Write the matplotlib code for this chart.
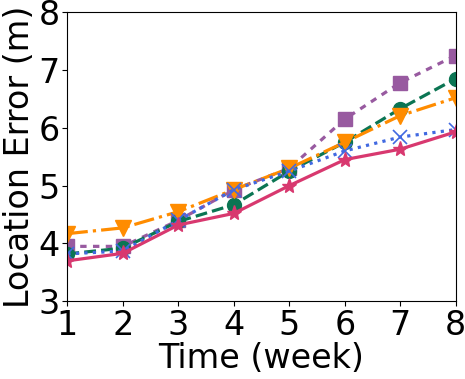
import matplotlib
matplotlib.use("Agg")
import matplotlib.pyplot as plt

weeks = [1, 2, 3, 4, 5, 6, 7, 8]
purple_sq = [3.95, 3.95, 4.40, 4.93, 5.30, 6.15, 6.78, 7.25]
green_circ = [3.82, 3.92, 4.38, 4.67, 5.25, 5.75, 6.33, 6.85]
orange_tri = [4.17, 4.27, 4.55, 4.93, 5.30, 5.75, 6.21, 6.52]
blue_x = [3.82, 3.87, 4.40, 4.93, 5.25, 5.60, 5.84, 5.97]
pink_star = [3.70, 3.83, 4.32, 4.52, 5.00, 5.45, 5.63, 5.93]

yticks = [3, 4, 5, 6, 7, 8]

fig = plt.figure(figsize=(4.65, 3.79), dpi=100)
ax = fig.add_axes([0.145, 0.205, 0.835, 0.763])

lw = 2.3
ax.plot(weeks, purple_sq, linestyle=(0, (2, 2)), color="#985aa0", marker="s", markersize=10, lw=lw)
ax.plot(weeks, green_circ, linestyle="--", color="#0b7553", marker="o", markersize=10, lw=lw)
ax.plot(weeks, orange_tri, linestyle="-.", color="#ff8c00", marker="v", markersize=11, lw=lw)
ax.plot(weeks, blue_x, linestyle=":", color="#4169e1", marker="x", markersize=10, lw=lw, markeredgewidth=1.2)
ax.plot(weeks, pink_star, linestyle="-", color="#d8386f", marker="*", markersize=11, lw=lw)

ax.set_xlim(1, 8)
ax.set_ylim(3, 8)
ax.set_xticks(weeks)
ax.set_yticks(yticks)
ax.tick_params(labelsize=24, length=3.5, width=0.8, pad=2)
ax.set_xlabel("Time (week)", fontsize=24, labelpad=0)
ax.set_ylabel("Location Error (m)", fontsize=24, labelpad=2)

fig.savefig("out.png", dpi=100)
